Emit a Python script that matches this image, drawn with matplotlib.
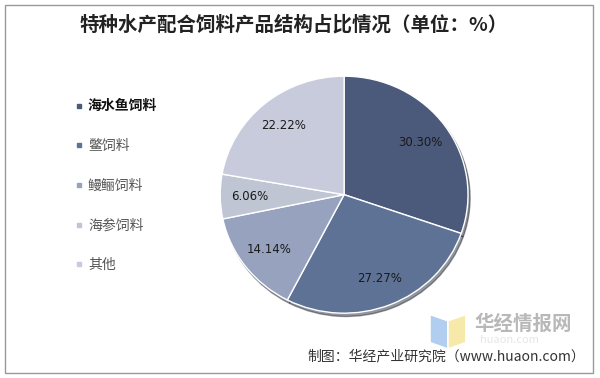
import matplotlib.pyplot as plt
from matplotlib.lines import Line2D
from matplotlib.patches import Rectangle, Polygon

plt.rcParams['font.family'] = ['Noto Sans CJK SC', 'DejaVu Sans']

# 数据
labels = ["海水鱼饲料", "鳖饲料", "鳗鲡饲料", "海参饲料", "其他"]
values = [30.30, 27.27, 14.14, 6.06, 22.22]
colors = ["#4b5a7a", "#5e7296", "#97a2bf", "#c0c5d4", "#c8cbdb"]
title = "特种水产配合饲料产品结构占比情况（单位：%）"
source = "制图：华经产业研究院（www.huaon.com）"

fig = plt.figure(figsize=(6, 3.78), dpi=100)
ax = fig.add_axes([0.367, 0.1715, 0.413, 0.627])

wedges, texts, autotexts = ax.pie(
    values, colors=colors, startangle=90, counterclock=False,
    autopct="%.2f%%", pctdistance=0.76,
    wedgeprops=dict(edgecolor="white", linewidth=1),
    shadow=dict(ox=0.012, oy=-0.02, shade=0.6),
    textprops=dict(fontsize=8.5, color="#1a1a1a", family="DejaVu Sans"))
ax.set_aspect("auto")
ax.set_xlim(-1, 1)
ax.set_ylim(-1, 1)

# 图例
handles = [Line2D([], [], marker="s", linestyle="", markersize=3,
                  color=c) for c in colors]
leg = fig.legend(handles, labels, loc="upper left",
                 bbox_to_anchor=(0.105, 0.77), frameon=False,
                 fontsize=10, labelspacing=1.85, handlelength=0.5,
                 handletextpad=0.4)
for i, t in enumerate(leg.get_texts()):
    if i == 0:
        t.set_fontweight("bold")
        t.set_color("#111111")
    else:
        t.set_color("#555555")

fig.text(0.49, 0.934, title, ha="center", va="center", fontsize=14,
         fontweight="bold", color="#222222")

# 水印
fig.patches.append(Polygon([[0.718, 0.165], [0.745, 0.15], [0.745, 0.08],
                            [0.718, 0.095]], closed=True, transform=fig.transFigure,
                           facecolor="#a9c8ee", edgecolor="none", alpha=0.9))
fig.patches.append(Polygon([[0.748, 0.15], [0.775, 0.165], [0.775, 0.095],
                            [0.748, 0.08]], closed=True, transform=fig.transFigure,
                           facecolor="#f5e7a0", edgecolor="none", alpha=0.9))
fig.text(0.79, 0.142, "华经情报网", ha="left", va="center", fontsize=14,
         fontweight="bold", color="#b8b8b8")
fig.text(0.8, 0.1, "huaon.com", ha="left", va="center", fontsize=8,
         color="#e6e6e6")

fig.text(0.975, 0.058, source, ha="right", va="center", fontsize=10,
         color="#333333")

fig.patches.append(Rectangle((0.009, 0.013), 0.98, 0.975, transform=fig.transFigure,
                             fill=False, edgecolor="#999999", linewidth=1))

fig.savefig("out.png", dpi=100)
